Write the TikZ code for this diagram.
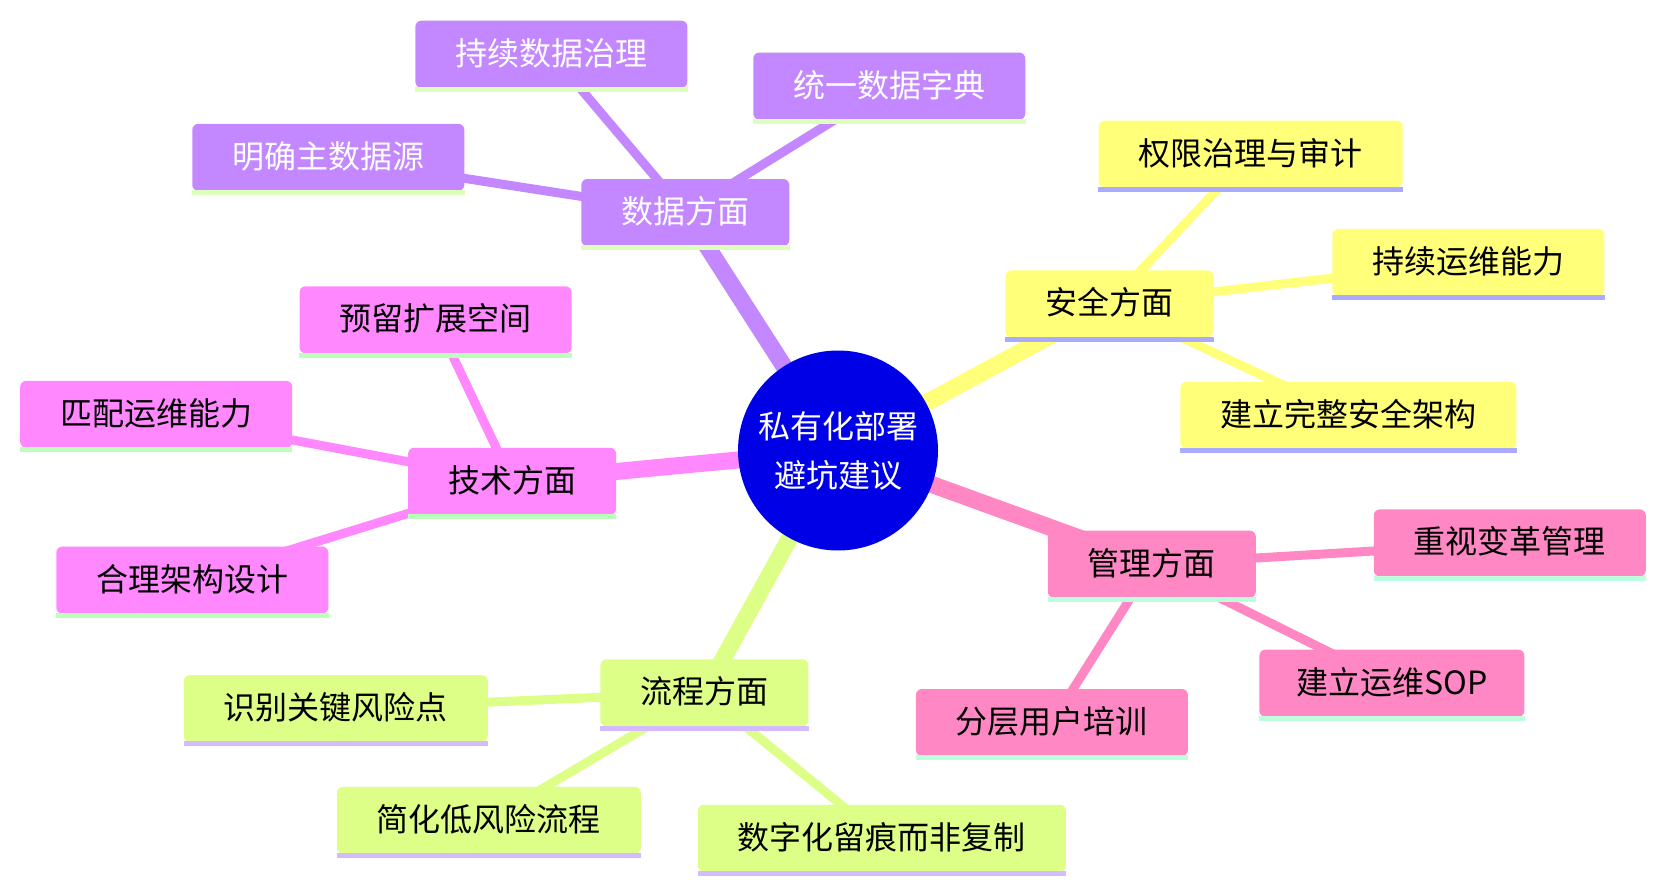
\documentclass[tikz,border=0pt]{standalone}
\usepackage{fontspec}
\setmainfont{Noto Sans CJK SC}
\pgfdeclarelayer{bg}
\pgfsetlayers{bg,main}
\definecolor{cdata}{RGB}{195,135,255}
\definecolor{udata}{RGB}{221,255,187}
\definecolor{csec}{RGB}{255,255,122}
\definecolor{usec}{RGB}{170,170,255}
\definecolor{ctech}{RGB}{255,136,255}
\definecolor{utech}{RGB}{187,255,187}
\definecolor{cmgmt}{RGB}{255,136,196}
\definecolor{umgmt}{RGB}{187,255,221}
\definecolor{cproc}{RGB}{221,255,136}
\definecolor{uproc}{RGB}{212,187,255}
\definecolor{ccenter}{RGB}{0,0,230}
\tikzset{
  topic/.style={rounded corners=6pt, minimum height=67pt, inner xsep=40pt, inner ysep=0pt,
    font=\fontsize{32pt}{38pt}\selectfont, text height=27pt, text depth=5pt},
  datab/.style={topic, fill=cdata, text=white},
  secb/.style={topic, fill=csec, text=black},
  techb/.style={topic, fill=ctech, text=black},
  mgmtb/.style={topic, fill=cmgmt, text=black},
  procb/.style={topic, fill=cproc, text=black},
  mainline/.style={line width=17pt},
  subline/.style={line width=9pt},
}
\begin{document}
\begin{tikzpicture}[x=1pt,y=-1pt]
\useasboundingbox (0,0) rectangle (1666,891);
% center
\node[circle, fill=ccenter, text=white, minimum size=200pt, inner sep=0pt, align=center,
  font=\fontsize{32pt}{49pt}\selectfont] (C) at (838,450.5) {私有化部署\\避坑建议};
% data
\node[datab] (d) at (685.3,212.5) {数据方面};
\node[datab] (d1) at (551.4,54.2) {持续数据治理};
\node[datab] (d2) at (889.3,86.1) {统一数据字典};
\node[datab] (d3) at (328.3,157.3) {明确主数据源};
% security
\node[secb] (s) at (1109.3,303.9) {安全方面};
\node[secb] (s1) at (1250.6,154.1) {权限治理与审计};
\node[secb] (s2) at (1468.4,262.4) {持续运维能力};
\node[secb] (s3) at (1348.3,415.4) {建立完整安全架构};
% tech
\node[techb] (t) at (512.1,481.3) {技术方面};
\node[techb] (t1) at (435.6,319.8) {预留扩展空间};
\node[techb] (t2) at (156.2,414.4) {匹配运维能力};
\node[techb] (t3) at (192.3,580.1) {合理架构设计};
% management
\node[mgmtb] (m) at (1151.8,564.2) {管理方面};
\node[mgmtb] (m1) at (1509.8,542.9) {重视变革管理};
\node[mgmtb, inner xsep=37pt] (m2) at (1391.9,683.2) {建立运维SOP};
\node[mgmtb] (m3) at (1051.9,722.5) {分层用户培训};
% process
\node[procb] (p) at (704.4,692.8) {流程方面};
\node[procb] (p1) at (335.8,708.7) {识别关键风险点};
\node[procb] (p2) at (488.8,820.3) {简化低风险流程};
\node[procb] (p3) at (881.9,838.3) {数字化留痕而非复制};
% underlines
\foreach \n/\u in {d/udata,d1/udata,d2/udata,d3/udata,
  s/usec,s1/usec,s2/usec,s3/usec,
  t/utech,t1/utech,t2/utech,t3/utech,
  m/umgmt,m1/umgmt,m2/umgmt,m3/umgmt,
  p/uproc,p1/uproc,p2/uproc,p3/uproc}
  \fill[\u] ([yshift=1pt]\n.south west) rectangle ([yshift=-4pt]\n.south east);
% connectors
\begin{pgfonlayer}{bg}
\draw[mainline, cdata] (C.center) -- (d.center);
\draw[mainline, csec] (C.center) -- (s.center);
\draw[mainline, ctech] (C.center) -- (t.center);
\draw[mainline, cmgmt] (C.center) -- (m.center);
\draw[mainline, cproc] (C.center) -- (p.center);
\foreach \a in {d1,d2,d3} \draw[subline, cdata] (d.center) -- (\a.center);
\foreach \a in {s1,s2,s3} \draw[subline, csec] (s.center) -- (\a.center);
\foreach \a in {t1,t2,t3} \draw[subline, ctech] (t.center) -- (\a.center);
\foreach \a in {m1,m2,m3} \draw[subline, cmgmt] (m.center) -- (\a.center);
\foreach \a in {p1,p2,p3} \draw[subline, cproc] (p.center) -- (\a.center);
\end{pgfonlayer}
\end{tikzpicture}
\end{document}
